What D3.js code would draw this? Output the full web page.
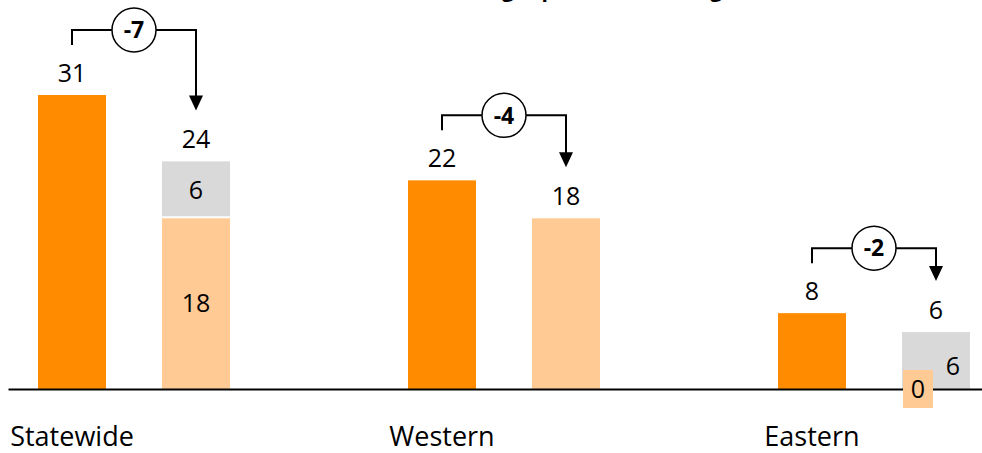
<!DOCTYPE html>
<html>
<head>
<meta charset="utf-8">
<script src="https://cdn.jsdelivr.net/npm/d3@7"></script>
<style>
  html, body { margin: 0; padding: 0; background: #fff; }
  svg { display: block; }
  text { font-family: "Open Sans", "Noto Sans", sans-serif; fill: #000; }
</style>
</head>
<body>
<svg id="chart" width="982" height="453"></svg>
<script>
const title = "Share of students rating top, in state average";
const categories = ["Statewide", "Western", "Eastern"];
const beforeValues = [31, 22, 8];
const afterTotals = [24, 18, 6];
const afterOrange = [18, 18, 0];
const afterGray = [6, 0, 6];
const changes = [-7, -4, -2];

const W = 982, H = 453;
const svg = d3.select("#chart");

const baseY = 389;
const y = d3.scaleLinear().domain([0, 31]).range([baseY, 95]);
const x = d3.scalePoint().domain(categories).range([72, 812]);
const offset = 124;
const barW = 68;

const cOrange = "#FF8C00", cLight = "#FFCA94", cGray = "#D9D9D9";

// title (cut off at top in reference: only descenders visible)
const t = svg.append("text").attr("x", 0).attr("y", -3)
  .attr("font-size", 21).attr("font-weight", "bold").text(title);
const gIdx = title.indexOf("rating") + 5;
const gx = t.node().getSubStringLength(0, gIdx);
t.attr("x", 502 - gx);

categories.forEach((c, i) => {
  const cx1 = x(c), cx2 = x(c) + offset;
  // before bar
  svg.append("rect").attr("x", cx1 - barW / 2).attr("y", y(beforeValues[i]))
    .attr("width", barW).attr("height", baseY - y(beforeValues[i])).attr("fill", cOrange);
  svg.append("text").attr("x", cx1).attr("y", y(beforeValues[i]) - 13)
    .attr("text-anchor", "middle").attr("font-size", 25).text(beforeValues[i]);

  // after stacked bar
  const o = afterOrange[i], g = afterGray[i];
  if (o > 0) {
    svg.append("rect").attr("x", cx2 - barW / 2).attr("y", y(o))
      .attr("width", barW).attr("height", baseY - y(o)).attr("fill", cLight);
  }
  if (g > 0) {
    svg.append("rect").attr("x", cx2 - barW / 2).attr("y", y(o + g))
      .attr("width", barW).attr("height", y(o) - y(o + g) - (o > 0 ? 2 : 0)).attr("fill", cGray);
  }
  const top2 = y(afterTotals[i]);
  svg.append("text").attr("x", cx2).attr("y", top2 - 13)
    .attr("text-anchor", "middle").attr("font-size", 25).text(afterTotals[i]);

  if (o > 0 && g > 0) {
    svg.append("text").attr("x", cx2).attr("y", (y(o) + y(o + g)) / 2)
      .attr("dy", "0.35em").attr("text-anchor", "middle").attr("font-size", 25).text(g);
    svg.append("text").attr("x", cx2).attr("y", (baseY + y(o)) / 2)
      .attr("dy", "0.35em").attr("text-anchor", "middle").attr("font-size", 25).text(o);
  } else if (o === 0 && g > 0) {
    svg.append("text").attr("x", cx2 + 17).attr("y", (y(o) + y(o + g)) / 2 + 6)
      .attr("dy", "0.35em").attr("text-anchor", "middle").attr("font-size", 25).text(g);
  }

  // change bracket arrow
  const lineY = y(beforeValues[i]) - 65;
  const tipY = top2 - 51;
  const mid = (cx1 + cx2) / 2;
  const r = 22;
  const path = d3.path();
  path.moveTo(cx1, lineY + 15); path.lineTo(cx1, lineY); path.lineTo(mid - r, lineY);
  path.moveTo(mid + r, lineY); path.lineTo(cx2, lineY); path.lineTo(cx2, tipY - 13);
  svg.append("path").attr("d", path.toString()).attr("fill", "none")
    .attr("stroke", "#000").attr("stroke-width", 2);
  svg.append("path")
    .attr("d", `M${cx2 - 7},${tipY - 15}L${cx2 + 7},${tipY - 15}L${cx2},${tipY}Z`)
    .attr("fill", "#000");
  svg.append("circle").attr("cx", mid).attr("cy", lineY).attr("r", r)
    .attr("fill", "#fff").attr("stroke", "#000").attr("stroke-width", 1.5);
  svg.append("text").attr("x", mid).attr("y", lineY).attr("dy", "0.36em")
    .attr("text-anchor", "middle").attr("font-size", 23).attr("font-weight", "bold")
    .text(changes[i]);

  // category label
  svg.append("text").attr("x", cx1).attr("y", 446).attr("text-anchor", "middle")
    .attr("font-size", 27).text(c);
});

// baseline axis
const xAxis = d3.axisBottom(d3.scaleLinear().range([8, 982])).ticks(0).tickSizeOuter(0);
svg.append("g").attr("transform", `translate(0,${baseY})`).call(xAxis)
  .select(".domain").attr("stroke", "#000").attr("stroke-width", 2);

// zero-value labels drawn with a light box over the axis line
categories.forEach((c, i) => {
  if (afterOrange[i] === 0 && afterGray[i] > 0) {
    const cx2 = x(c) + offset;
    svg.append("rect").attr("x", cx2 - 33).attr("y", baseY - 19)
      .attr("width", 30).attr("height", 38).attr("fill", cLight);
    svg.append("text").attr("x", cx2 - 18).attr("y", baseY)
      .attr("dy", "0.35em").attr("text-anchor", "middle").attr("font-size", 25).text(afterOrange[i]);
  }
});
</script>
</body>
</html>
